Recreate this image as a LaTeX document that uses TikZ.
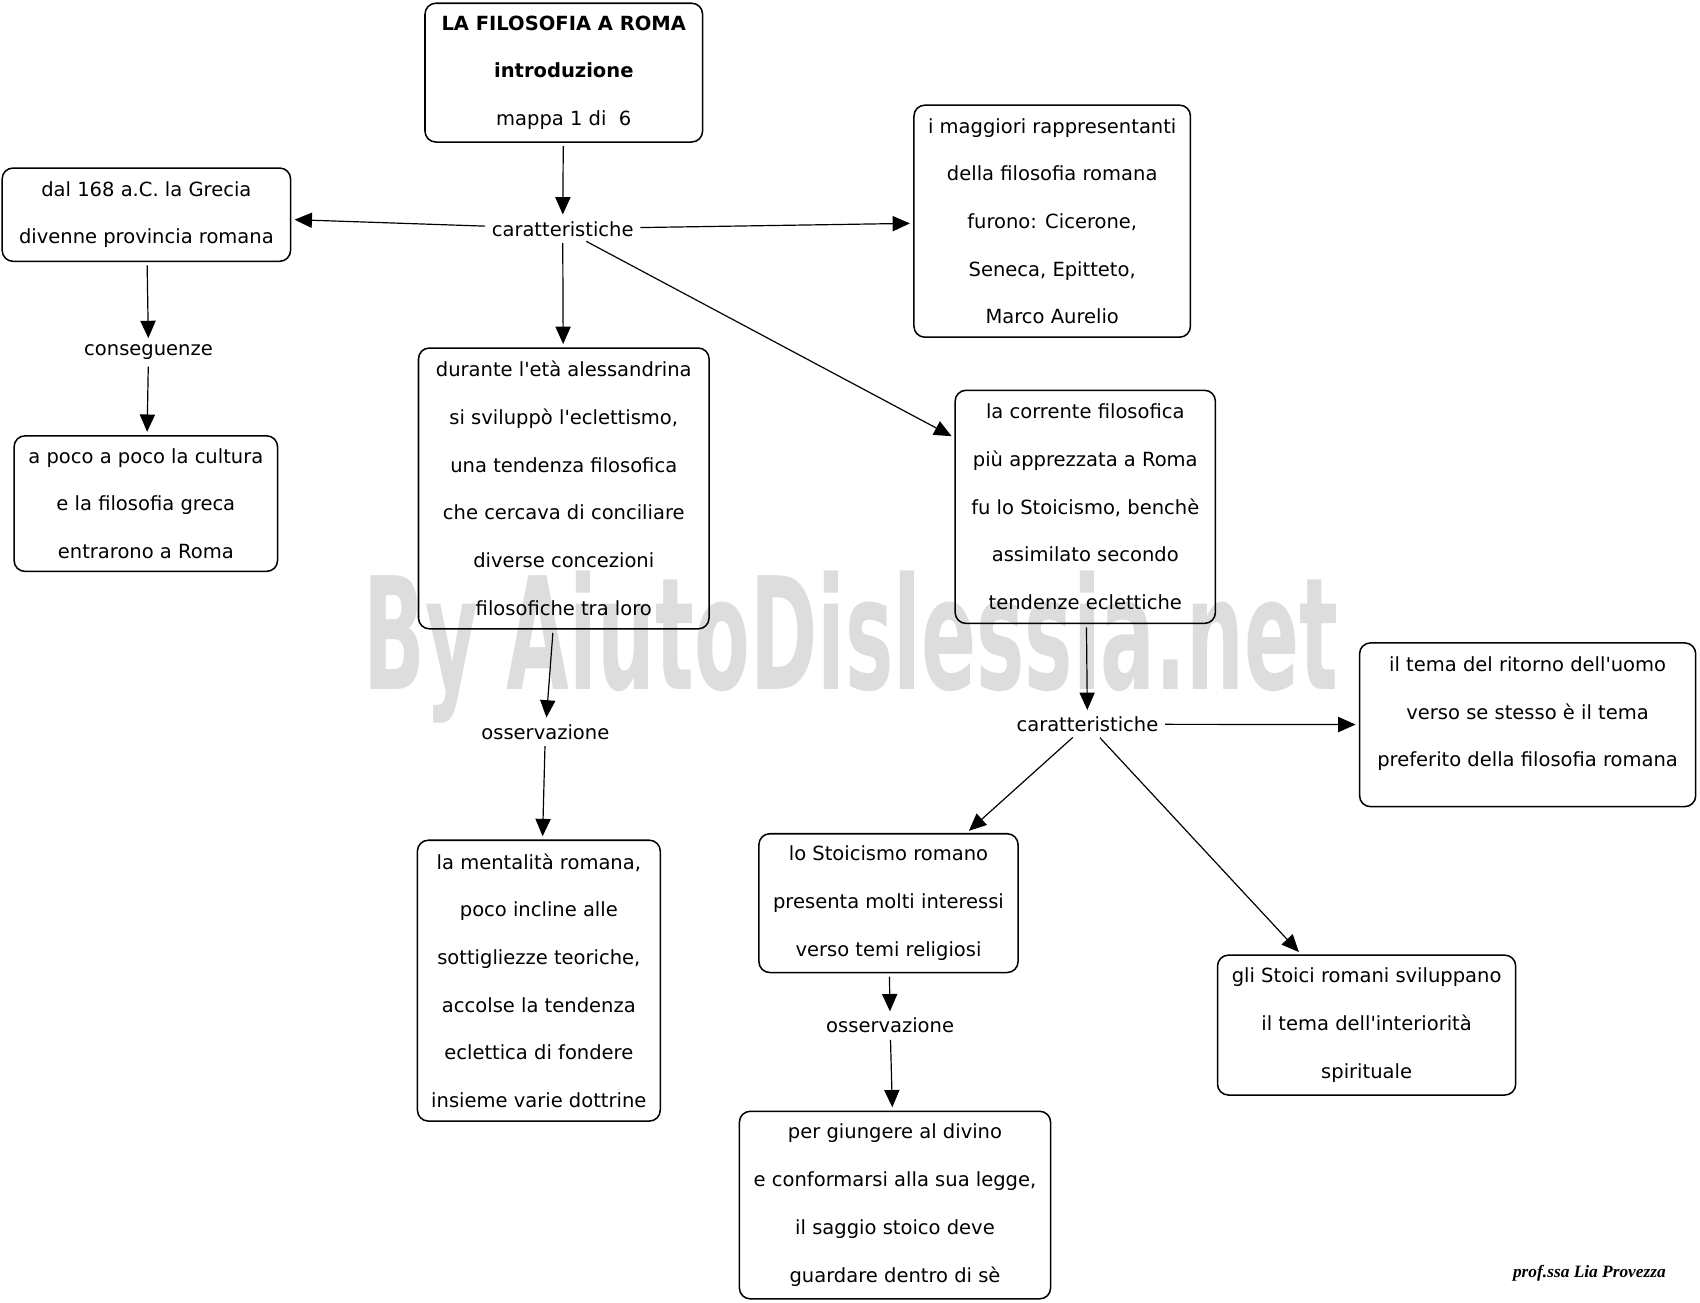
\documentclass[tikz,border=0pt]{standalone}
\usepackage{fontspec}
\setmainfont{DejaVu Sans}
\newfontfamily\signfont{Liberation Serif}
\usetikzlibrary{arrows.meta}
\definecolor{markgray}{RGB}{221,221,221}
\newcommand{\apo}{\textquotesingle}

\begin{document}
\begin{tikzpicture}[x=1pt, y=-1pt,
    card/.style={draw, line width=1.4pt, rounded corners=10pt, align=center,
                 inner sep=0pt, font=\fontsize{18}{44}\selectfont},
    tag/.style={inner sep=3pt, font=\fontsize{18}{22}\selectfont},
    link/.style={line width=1.1pt, -{Triangle[length=16pt,width=14pt]},
                 shorten <=3pt, shorten >=3pt}]

  \useasboundingbox [fill=white] (0,0) rectangle (1568,1201);

  % watermark
  \node [anchor=base, text=markgray, font=\fontsize{144}{150}\selectfont\bfseries]
        (mark) at (785,636) {\scalebox{0.52}[1]{By AiutoDislessia.net}};

  % boxes
  \node [card, minimum width=256pt, minimum height=128pt] (title) at (520,67)
        {\textbf{LA FILOSOFIA A ROMA}\\ \textbf{introduzione}\\ mappa 1 di~~6};
  \node [card, minimum width=266pt, minimum height=86pt] (grecia) at (135,198)
        {dal 168 a.C. la Grecia\\ divenne provincia romana};
  \node [card, minimum width=255pt, minimum height=214pt] (autori) at (970.5,204)
        {i maggiori rappresentanti\\ della filosofia romana\\ furono: Cicerone,\\
         Seneca, Epitteto,\\ Marco Aurelio};
  \node [card, minimum width=243pt, minimum height=125pt] (cultura) at (134.5,464.5)
        {a poco a poco la cultura\\ e la filosofia greca\\ entrarono a Roma};
  \node [card, minimum width=268pt, minimum height=259pt] (eclett) at (520,450.5)
        {durante l\apo età alessandrina\\ si sviluppò l\apo eclettismo,\\ una tendenza filosofica\\
         che cercava di conciliare\\ diverse concezioni\\ filosofiche tra loro};
  \node [card, minimum width=240pt, minimum height=215pt] (stoa) at (1001,467.5)
        {la corrente filosofica\\ più apprezzata a Roma\\ fu lo Stoicismo, benchè\\
         assimilato secondo\\ tendenze eclettiche};
  \node [card, minimum width=224pt, minimum height=259pt] (mente) at (497,904.5)
        {la mentalità romana,\\ poco incline alle\\ sottigliezze teoriche,\\
         accolse la tendenza\\ eclettica di fondere\\ insieme varie dottrine};
  \node [card, minimum width=310pt, minimum height=151pt] (ritorno) at (1409,668.5)
        {il tema del ritorno dell\apo uomo\\ verso se stesso è il tema\\
         preferito della filosofia romana\\[-20pt]\mbox{}};
  \node [card, minimum width=239pt, minimum height=128pt] (religio) at (819.5,833)
        {lo Stoicismo romano\\ presenta molti interessi\\ verso temi religiosi};
  \node [card, minimum width=275pt, minimum height=129pt] (interno) at (1260.5,945.5)
        {gli Stoici romani sviluppano\\ il tema dell\apo interiorità\\ spirituale};
  \node [card, minimum width=287pt, minimum height=173pt] (divino) at (825.5,1111.5)
        {per giungere al divino\\ e conformarsi alla sua legge,\\
         il saggio stoico deve\\ guardare dentro di sè};

  % linking words
  \node [tag] (car1) at (519,211) {caratteristiche};
  \node [tag] (conseg) at (137,325) {conseguenze};
  \node [tag] (oss1) at (503,675) {osservazione};
  \node [tag] (car2) at (1003,668) {caratteristiche};
  \node [tag] (oss2) at (821,946) {osservazione};

  \node [font=\signfont\bfseries\itshape\fontsize{16}{18}\selectfont]
        (firma) at (1466,1174) {prof.ssa Lia Provezza};

  % connectors
  \draw [link] (title) -- (car1);
  \draw [link] (car1) -- (grecia);
  \draw [link] (car1) -- (autori);
  \draw [link] (car1) -- (eclett);
  \draw [link] (car1) -- (stoa);
  \draw [link] (grecia) -- (conseg);
  \draw [link] (conseg) -- (cultura);
  \draw [link] (eclett) -- (oss1);
  \draw [link] (oss1) -- (mente);
  \draw [link] (stoa) -- (car2);
  \draw [link] (car2) -- (ritorno);
  \draw [link] (car2) -- (religio);
  \draw [link] (car2) -- (interno);
  \draw [link] (religio) -- (oss2);
  \draw [link] (oss2) -- (divino);

\end{tikzpicture}
\end{document}
